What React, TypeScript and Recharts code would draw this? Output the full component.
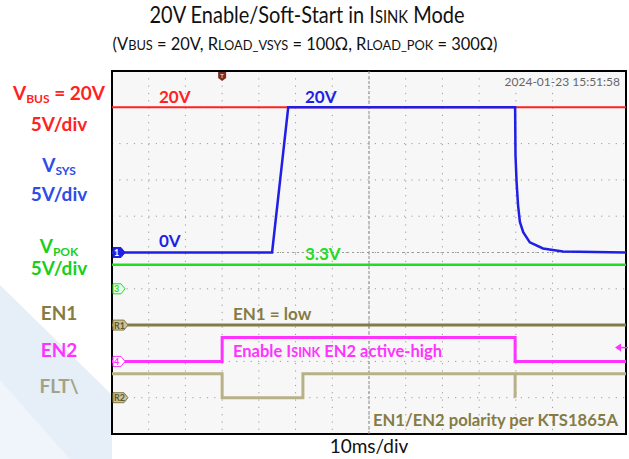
import React from "react";
import {
  ComposedChart,
  Line,
  XAxis,
  YAxis,
  CartesianGrid,
  ReferenceLine,
  ReferenceArea,
  ReferenceDot,
} from "recharts";

// time axis: ms from the left edge of the screen (10 ms/div, 14 div)
const xTicks = [0, 10, 20, 30, 40, 50, 60, 70, 80, 90, 100, 110, 120, 130, 140];
// vertical divisions, 0 = bottom of the screen
const yTicks = [0, 1, 2, 3, 4, 5, 6, 7, 8, 9, 10];

// VBUS (ch2, red)
const vbusT = [0, 140];
const vbusV = [20, 20];
// VSYS (ch1, blue)
const vsysT = [0, 43.6, 48.0, 109.8, 109.9, 110.2, 110.6, 111.1, 112.0, 113.8, 117.4, 122.8, 140];
const vsysV = [0, 0, 20, 20, 13.4, 9.7, 6.5, 4.2, 2.8, 1.4, 0.55, 0.14, 0];
// VPOK (ch3, green)
const vpokT = [0, 140];
const vpokV = [3.3, 3.3];
// EN1 (R1)
const en1T = [0, 140];
const en1V = [0, 0];
// EN2 (ch4)
const en2T = [0, 30, 30, 109.8, 109.8, 140];
const en2V = [0, 0, 3.3, 3.3, 0, 0];
// FLT\ (R2)
const fltT = [0, 30, 30, 52, 52, 109.8, 109.8, 109.8, 140];
const fltV = [3.3, 3.3, 0, 0, 3.3, 3.3, 0, 3.3, 3.3];

const triggerT = 30;
const en2TrigV = 1.9;

const FONT = "Lato, 'Open Sans', sans-serif";

const RED = "#ff2222";
const BLUE = "#1f1fe6";
const GREEN = "#22dd22";
const OLIVE = "#857c45";
const MAGENTA = "#ff33ff";
const KHAKI = "#b8b187";

const toDiv = (t: number[], v: number[], vPerDiv: number, ground: number) =>
  t.map((tt, i) => ({ t: tt, y: ground + v[i] / vPerDiv }));

const channels = [
  { key: "vbus", data: toDiv(vbusT, vbusV, 5, 5), color: RED, w: 2 },
  { key: "vpok", data: toDiv(vpokT, vpokV, 5, 4), color: GREEN, w: 2.5 },
  { key: "en1", data: toDiv(en1T, en1V, 5, 3), color: OLIVE, w: 3 },
  { key: "flt", data: toDiv(fltT, fltV, 5, 1), color: KHAKI, w: 3 },
  { key: "en2", data: toDiv(en2T, en2V, 5, 2), color: MAGENTA, w: 3 },
  { key: "vsys", data: toDiv(vsysT, vsysV, 5, 5), color: BLUE, w: 2.5 },
];

const markers = [
  { label: "1", div: 5, fill: BLUE, stroke: BLUE, text: "#fff" },
  { label: "3", div: 4, fill: "#e8ffe8", stroke: GREEN, text: GREEN },
  { label: "R1", div: 3, fill: "#c9c29a", stroke: OLIVE, text: "#5f5830" },
  { label: "4", div: 2, fill: "#fff", stroke: MAGENTA, text: MAGENTA },
  { label: "R2", div: 1, fill: "#c9c29a", stroke: OLIVE, text: "#5f5830" },
];

const tag = (label: string, fill: string, stroke: string, text: string) => (p: any) => {
  const { cx, cy } = p;
  const w = label.length > 1 ? 12 : 9;
  const pts = `${cx + 1},${cy - 5} ${cx + w},${cy - 5} ${cx + w + 4},${cy} ${cx + w},${cy + 5} ${cx + 1},${cy + 5}`;
  return (
    <g>
      <polygon points={pts} fill={fill} stroke={stroke} strokeWidth={1} />
      <text x={cx + 2} y={cy + 3.5} fontSize={9} fontWeight={700} fill={text} fontFamily={FONT}>
        {label}
      </text>
    </g>
  );
};

const trigShape = (p: any) => {
  const { cx, cy } = p;
  return (
    <g>
      <polygon
        points={`${cx - 4},${cy + 1} ${cx + 4},${cy + 1} ${cx + 4},${cy + 7} ${cx},${cy + 10} ${cx - 4},${cy + 7}`}
        fill="#7b2d1e"
      />
      <text x={cx} y={cy + 7} fontSize={6} fill="#fff" textAnchor="middle" fontFamily={FONT}>
        T
      </text>
    </g>
  );
};

const levelShape = (p: any) => {
  const { cx, cy } = p;
  return (
    <g>
      <polygon points={`${cx},${cy} ${cx + 6},${cy - 4} ${cx + 6},${cy + 4}`} fill={MAGENTA} />
      <line x1={cx + 5} y1={cy} x2={cx + 13} y2={cy} stroke={MAGENTA} strokeWidth={1.5} />
    </g>
  );
};

function Sub({ children, size = 12 }: { children: string; size?: number }) {
  return (
    <tspan fontSize={size} dy={3}>
      {children}
    </tspan>
  );
}

export default function App() {
  return (
    <div style={{ position: "absolute", left: 0, top: 0, width: 629, height: 459, background: "#fff" }}>
      <svg width={629} height={459} style={{ position: "absolute", left: 0, top: 0 }}>
        <polygon points="0,285 112,395 112,459 0,459" fill="#e6eef8" />
        <polygon points="0,380 70,459 0,459" fill="#f0f5fb" />
      </svg>
      <div style={{ position: "absolute", left: 0, top: 0 }}>
        <ComposedChart width={629} height={459} margin={{ top: 71, right: 3, bottom: 25, left: 112 }}>
          <XAxis type="number" dataKey="t" domain={[0, 140]} ticks={xTicks} hide allowDataOverflow />
          <YAxis type="number" dataKey="y" domain={[0, 10]} ticks={yTicks} hide allowDataOverflow />
          <CartesianGrid stroke="#9c9c9c" strokeDasharray="1.2 6.1" fill="#f7f7f7" />
          <ReferenceLine x={70} stroke="#8a8a8a" strokeDasharray="3 2" />
          <ReferenceLine y={5} stroke="#9a9a9a" strokeDasharray="2 3" />
          {channels.map((c) => (
            <Line
              key={c.key}
              data={c.data}
              dataKey="y"
              type="linear"
              stroke={c.color}
              strokeWidth={c.w}
              dot={false}
              isAnimationActive={false}
            />
          ))}
          {markers.map((m) => (
            <ReferenceDot
              key={m.label}
              x={0}
              y={m.div}
              ifOverflow="visible"
              shape={tag(m.label, m.fill, m.stroke, m.text)}
            />
          ))}
          <ReferenceDot x={triggerT} y={10} ifOverflow="visible" shape={trigShape} />
          <ReferenceDot x={137} y={2 + en2TrigV / 5} ifOverflow="visible" shape={levelShape} />
          <ReferenceArea x1={0} x2={140} y1={0} y2={10} fill="none" stroke="#000" strokeWidth={2} ifOverflow="visible" />
        </ComposedChart>
      </div>
      <svg
        width={629}
        height={459}
        style={{ position: "absolute", left: 0, top: 0, pointerEvents: "none" }}
        fontFamily={FONT}
      >
        <text x={307} y={23} fontSize={23} textAnchor="middle" fill="#111" textLength={315} lengthAdjust="spacingAndGlyphs">
          20V Enable/Soft-Start in I<tspan fontSize={17}>SINK</tspan> Mode
        </text>
        <text x={305} y={50} fontSize={18} textAnchor="middle" fill="#111" textLength={385} lengthAdjust="spacingAndGlyphs">
          (V<tspan fontSize={14}>BUS</tspan> = 20V, R<tspan fontSize={14}>LOAD_VSYS</tspan> = 100Ω, R
          <tspan fontSize={14}>LOAD_POK</tspan> = 300Ω)
        </text>

        <g fontSize={19} fontWeight={700} textAnchor="middle">
          <text x={59} y={100} fill={RED}>
            V<Sub>BUS</Sub>
            <tspan dy={-3}> = 20V</tspan>
          </text>
          <text x={59} y={131} fill={RED}>5V/div</text>
          <text x={59} y={172} fill="#2d4ce8">
            V<Sub>SYS</Sub>
          </text>
          <text x={59} y={201} fill="#2d4ce8">5V/div</text>
          <text x={59} y={253} fill="#19d019">
            V<Sub>POK</Sub>
          </text>
          <text x={59} y={275} fill="#19d019">5V/div</text>
          <text x={59} y={320} fill={OLIVE}>EN1</text>
          <text x={59} y={357} fill={MAGENTA}>EN2</text>
          <text x={59} y={393} fill="#a3a383">FLT\</text>
        </g>

        <text x={620} y={86} fontSize={12} textAnchor="end" fill="#666">
          2024-01-23 15:51:58
        </text>

        <g fontSize={17} fontWeight={700}>
          <text x={159} y={103} fill={RED}>20V</text>
          <text x={305} y={103} fill={BLUE}>20V</text>
          <text x={159} y={247} fill={BLUE}>0V</text>
          <text x={305} y={260} fill={GREEN}>3.3V</text>
          <text x={233} y={320} fill={OLIVE}>EN1 = low</text>
          <text x={233} y={357} fill={MAGENTA} textLength={209} lengthAdjust="spacingAndGlyphs">
            Enable I<tspan fontSize={13}>SINK</tspan> EN2 active-high
          </text>
          <text x={373} y={426} fill={OLIVE} textLength={245} lengthAdjust="spacingAndGlyphs">
            EN1/EN2 polarity per KTS1865A
          </text>
        </g>

        <text x={369} y={453} fontSize={19} textAnchor="middle" fill="#111">
          10ms/div
        </text>
      </svg>
    </div>
  );
}
